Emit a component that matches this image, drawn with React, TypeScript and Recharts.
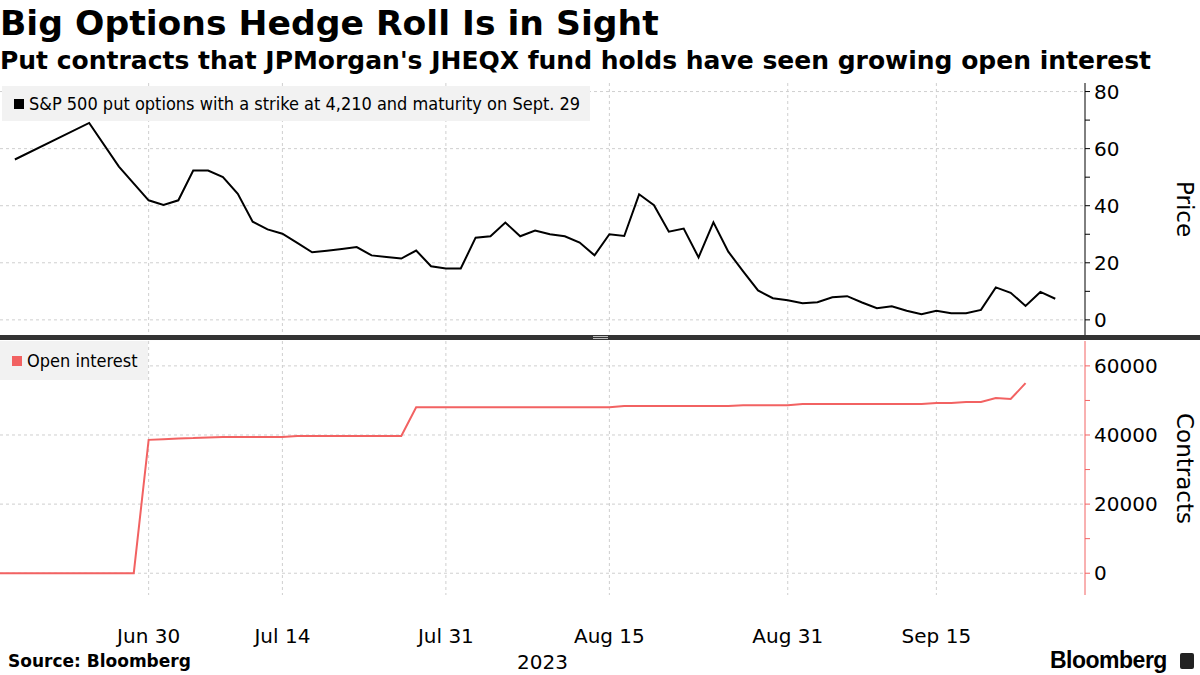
import React from "react";
import { LineChart, Line, XAxis, YAxis, CartesianGrid } from "recharts";

// trading days shown on the axis (2023), Jun 15 .. Sep 29
const tradingDays = [
  "06-15", "06-16", "06-20", "06-21", "06-22", "06-23", "06-26", "06-27", "06-28", "06-29", "06-30",
  "07-03", "07-05", "07-06", "07-07", "07-10", "07-11", "07-12", "07-13", "07-14",
  "07-17", "07-18", "07-19", "07-20", "07-21", "07-24", "07-25", "07-26", "07-27", "07-28", "07-31",
  "08-01", "08-02", "08-03", "08-04", "08-07", "08-08", "08-09", "08-10", "08-11", "08-14", "08-15",
  "08-16", "08-17", "08-18", "08-21", "08-22", "08-23", "08-24", "08-25", "08-28", "08-29", "08-30", "08-31",
  "09-01", "09-05", "09-06", "09-07", "09-08", "09-11", "09-12", "09-13", "09-14", "09-15",
  "09-18", "09-19", "09-20", "09-21", "09-22", "09-25", "09-26", "09-27", "09-28", "09-29",
];

// S&P 500 put, strike 4,210, Sept. 29 maturity (price)
const putPrice = [
  null, 56.2, null, null, null, null, 69.0, null, 53.7, null, 41.9,
  40.3, 41.9, 52.3, 52.3, 50.0, 44.2, 34.4, 31.7, 30.2,
  27.0, 23.7, 24.2, 24.8, 25.5, 22.6, 22.0, 21.5, 24.3, 18.8, 18.0,
  18.0, 28.8, 29.3, 34.1, 29.3, 31.3, 30.0, 29.3, 27.1, 22.6, 30.0,
  29.4, 44.0, 40.2, 30.9, 32.0, 21.9, 34.2, 23.9, 17.0, 10.3, 7.6, 6.9,
  5.8, 6.2, 7.9, 8.3, 6.1, 4.1, 4.8, 3.2, 2.0, 3.2,
  2.3, 2.3, 3.5, 11.4, 9.5, 4.9, 9.8, 7.4, null, null,
];

// open interest (contracts)
const openInterest = [
  0, 0, 0, 0, 0, 0, 0, 0, 0, 0, 38600,
  38800, 39000, 39100, 39300, 39400, 39400, 39400, 39400, 39400,
  39700, 39700, 39700, 39700, 39700, 39700, 39700, 39700, 48000, 48000, 48000,
  48000, 48000, 48000, 48000, 48000, 48000, 48000, 48000, 48000, 48000, 48000,
  48400, 48400, 48400, 48400, 48400, 48400, 48400, 48400, 48600, 48600, 48600, 48600,
  48950, 48950, 48950, 48950, 48950, 48950, 48950, 48950, 48950, 49250,
  49250, 49550, 49550, 50700, 50400, 55000, null, null, null, null,
];

const dateTicks = ["06-30", "07-14", "07-31", "08-15", "08-31", "09-15"];
const dateLabels = ["Jun 30", "Jul 14", "Jul 31", "Aug 15", "Aug 31", "Sep 15"];

const priceTicks = [0, 10, 20, 30, 40, 50, 60, 70, 80];
const priceGrid = [0, 20, 40, 60, 80];
const oiTicks = [0, 10000, 20000, 30000, 40000, 50000, 60000];
const oiGrid = [0, 20000, 40000, 60000];

const data = tradingDays.map((d, i) => ({
  i,
  date: d,
  price: putPrice[i],
  oi: openInterest[i],
}));
const tickIdx = dateTicks.map((d) => tradingDays.indexOf(d));
const gridIdx = [0, ...tickIdx];
const lastIdx = tradingDays.length - 1;

const RED = "#f26262";
const TICK_FONT = "'DejaVu Sans', sans-serif";

const rightTick = (step: number) => (props: any) => {
  const { x, y, payload } = props;
  if (payload.value % step !== 0) return <g />;
  return (
    <text x={x + 2} y={y} dy={7} fontSize={20} fontFamily={TICK_FONT} fill="#000" textAnchor="start">
      {payload.value}
    </text>
  );
};

const dateTick = (props: any) => {
  const { x, y, payload } = props;
  const k = tickIdx.indexOf(payload.value);
  if (k < 0) return <g />;
  return (
    <text x={x} y={y + 40} fontSize={20} fontFamily={TICK_FONT} fill="#000" textAnchor="middle">
      {dateLabels[k]}
    </text>
  );
};

const legendBox = (color: string, text: string, style: React.CSSProperties) => (
  <div
    style={{
      position: "absolute",
      background: "#f2f2f2",
      display: "flex",
      alignItems: "center",
      fontFamily: "'DejaVu Sans Condensed', 'DejaVu Sans', sans-serif",
      fontStretch: "condensed",
      fontSize: 18,
      color: "#000",
      whiteSpace: "nowrap",
      ...style,
    }}
  >
    <span style={{ width: 10, height: 10, background: color, display: "inline-block", marginLeft: 12, marginRight: 5 }} />
    <span>{text}</span>
  </div>
);

const axisTitle = (text: string, top: number, height: number) => (
  <div
    style={{
      position: "absolute",
      left: 1170,
      top,
      height,
      width: 28,
      writingMode: "vertical-rl",
      textAlign: "center",
      fontFamily: TICK_FONT,
      fontSize: 23,
      color: "#000",
    }}
  >
    {text}
  </div>
);

export default function App() {
  return (
    <div style={{ position: "absolute", left: 0, top: 0, width: 1200, height: 675, background: "#fff", overflow: "hidden" }}>
      <div style={{ position: "absolute", left: 0, top: 3, fontFamily: "'DejaVu Sans', sans-serif", fontWeight: "bold", fontSize: 34.6, whiteSpace: "nowrap" }}>
        Big Options Hedge Roll Is in Sight
      </div>
      <div style={{ position: "absolute", left: 0, top: 46, fontFamily: "'DejaVu Sans', sans-serif", fontWeight: "bold", fontSize: 25, whiteSpace: "nowrap" }}>
        Put contracts that JPMorgan's JHEQX fund holds have seen growing open interest
      </div>

      <div style={{ position: "absolute", left: 0, top: 80 }}>
        <LineChart width={1200} height={255} data={data} margin={{ top: 3, right: 5, bottom: 0, left: 0 }}>
          <CartesianGrid stroke="#cfcfcf" strokeDasharray="3 3" horizontalValues={priceGrid} verticalValues={gridIdx} />
          <XAxis type="number" dataKey="i" domain={[0, lastIdx]} ticks={tickIdx} hide />
          <YAxis
            orientation="right"
            width={110}
            domain={[-5.3, 83]}
            ticks={priceTicks}
            allowDataOverflow
            axisLine={{ stroke: "#000" }}
            tickLine={{ stroke: "#000" }}
            tickSize={5}
            tick={rightTick(20)}
          />
          <Line type="linear" dataKey="price" stroke="#000" strokeWidth={2} dot={false} connectNulls isAnimationActive={false} />
        </LineChart>
      </div>

      <div style={{ position: "absolute", left: 0, top: 341 }}>
        <LineChart width={1200} height={334} data={data} margin={{ top: 0, right: 5, bottom: 0, left: 0 }}>
          <CartesianGrid stroke="#cfcfcf" strokeDasharray="3 3" horizontalValues={oiGrid} verticalValues={gridIdx} />
          <XAxis
            type="number"
            dataKey="i"
            domain={[0, lastIdx]}
            ticks={tickIdx}
            height={80}
            axisLine={false}
            tickLine={false}
            tick={dateTick}
            label={{ value: "2023", position: "insideBottom", offset: 6, style: { fontSize: 20, fontFamily: TICK_FONT, fill: "#000" } }}
          />
          <YAxis
            orientation="right"
            width={110}
            domain={[-6300, 67200]}
            ticks={oiTicks}
            allowDataOverflow
            axisLine={{ stroke: RED }}
            tickLine={{ stroke: RED }}
            tickSize={5}
            tick={rightTick(20000)}
          />
          <Line type="linear" dataKey="oi" stroke={RED} strokeWidth={2} dot={false} isAnimationActive={false} />
        </LineChart>
      </div>

      {/* panel divider */}
      <div style={{ position: "absolute", left: 0, top: 335, width: 1200, height: 5, background: "#333" }} />
      <div style={{ position: "absolute", left: 593, top: 336, width: 15, height: 1, background: "#bbb" }} />
      <div style={{ position: "absolute", left: 593, top: 338, width: 15, height: 1, background: "#bbb" }} />

      {legendBox("#000", "S&P 500 put options with a strike at 4,210 and maturity on Sept. 29", { left: 2, top: 86, height: 35, paddingRight: 10 })}
      {legendBox(RED, "Open interest", { left: 0, top: 341, height: 39, paddingRight: 10 })}

      {axisTitle("Price", 83, 252)}
      {axisTitle("Contracts", 341, 254)}

      <div style={{ position: "absolute", left: 8, top: 651, fontFamily: "'DejaVu Sans', sans-serif", fontWeight: "bold", fontSize: 17 }}>
        Source: Bloomberg
      </div>
      <div style={{ position: "absolute", left: 1050, top: 647, fontFamily: "'Liberation Sans', sans-serif", fontWeight: "bold", fontSize: 23, letterSpacing: -0.5 }}>
        Bloomberg
      </div>
      <div style={{ position: "absolute", left: 1180, top: 653, width: 14, height: 16, background: "#222", borderRadius: 2 }} />
    </div>
  );
}
